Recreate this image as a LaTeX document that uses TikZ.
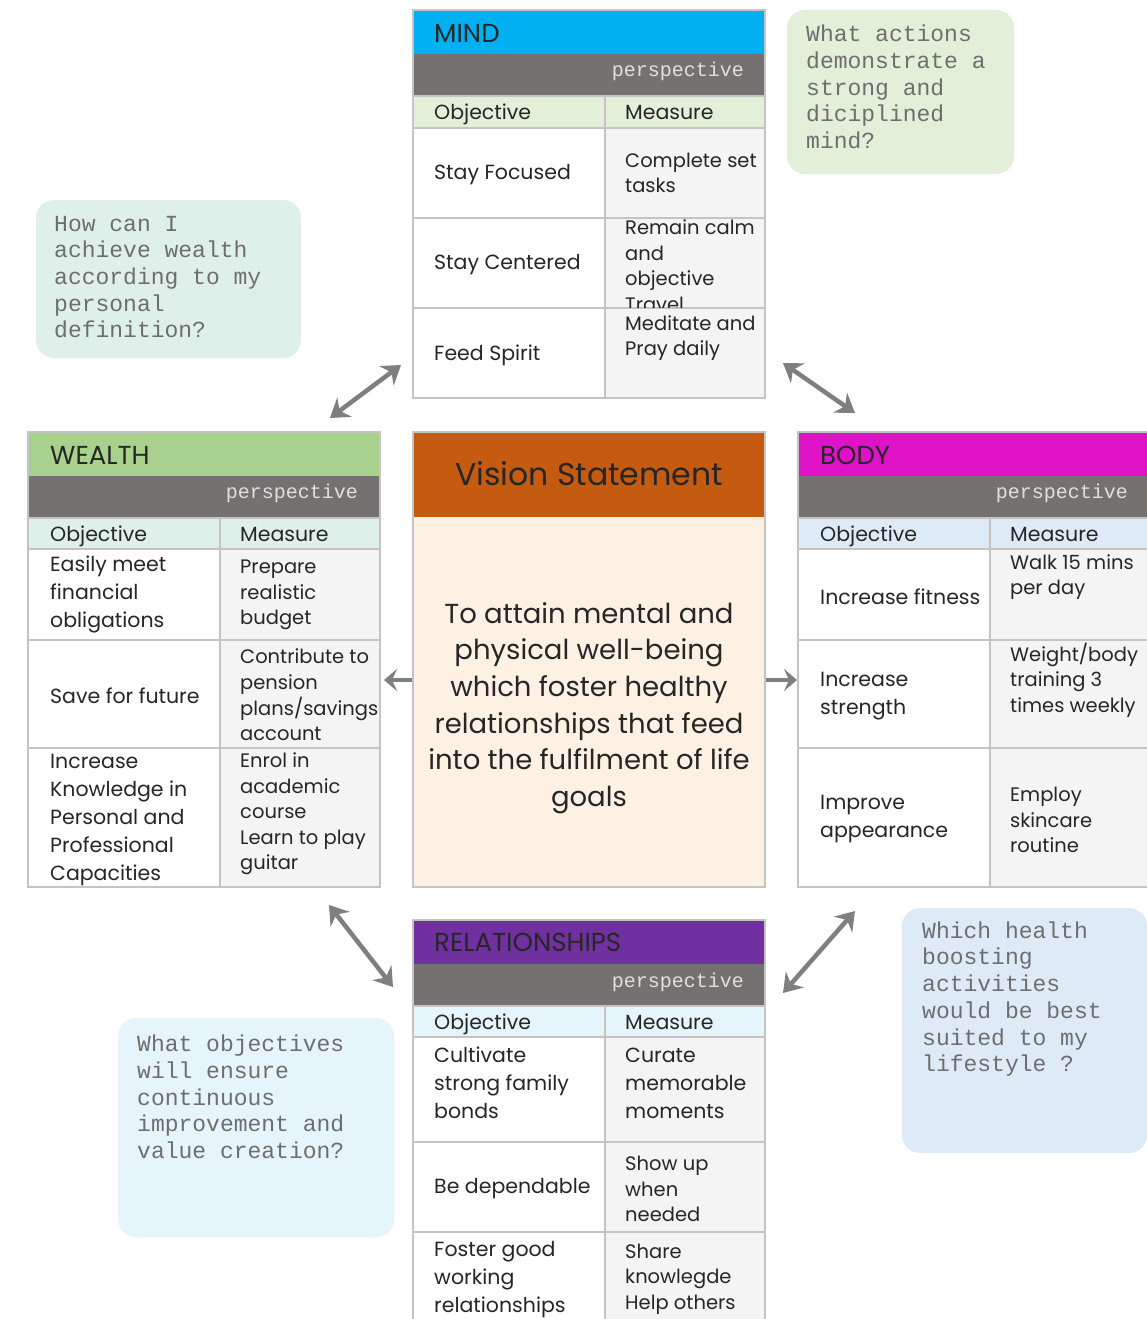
\documentclass[tikz,border=0pt]{standalone}
\usepackage{fontspec}
\setmainfont{Poppins}
\setmonofont{Liberation Mono}
\usepackage{tikz}
\usetikzlibrary{arrows.meta}

\definecolor{mindblue}{HTML}{00B0F0}
\definecolor{wealthgreen}{HTML}{A9D18E}
\definecolor{bodypink}{HTML}{DE12C6}
\definecolor{relpurple}{HTML}{7030A0}
\definecolor{visionorange}{HTML}{C55A11}
\definecolor{visionfill}{HTML}{FDF1E3}
\definecolor{bargray}{HTML}{767171}
\definecolor{measfill}{HTML}{F4F4F4}
\definecolor{gridgray}{HTML}{C4C4C4}
\definecolor{arrowgray}{HTML}{7F7F7F}
\definecolor{notetext}{HTML}{6E6E6E}
\definecolor{mindhead}{HTML}{E2F0D9}
\definecolor{wealthhead}{HTML}{DFEFEA}
\definecolor{bodyhead}{HTML}{DEEBF7}
\definecolor{relhead}{HTML}{E5F5FB}

\tikzset{
    tabtitle/.style={font=\fontsize{26}{30}\selectfont, text=black!85, anchor=west, inner sep=0pt},
    cell/.style={font=\fontsize{20.5}{28}\selectfont, text=black!85, anchor=west, align=left, inner sep=0pt},
    meas/.style={cell, font=\fontsize{19.5}{25.6}\selectfont},
    persp/.style={font=\ttfamily\fontsize{20}{22}\selectfont, text=black!12, anchor=east, inner sep=0pt},
    notetxt/.style={font=\ttfamily\fontsize{23}{26.7}\selectfont, text=notetext, anchor=west, align=left, inner sep=0pt},
    grid/.style={draw=gridgray, line width=1.5pt},
    link/.style={draw=arrowgray, line width=4.5pt,
        {Stealth[length=18pt, width=24pt, inset=6pt]}-{Stealth[length=18pt, width=24pt, inset=6pt]}},
    push/.style={draw=arrowgray, line width=4.5pt, -{Stealth[length=13pt, width=22pt, inset=5pt]}}
}

% frame of one perspective table
% #1 left, #2 top, #3 split, #4 right, #5 bottom, #6 title colour, #7 header colour, #8 row lines
\newcommand{\perspframe}[8]{%
    \fill[#6] (#1,#2) rectangle (#4,#2+44);
    \fill[bargray] (#1,#2+44) rectangle (#4,#2+86);
    \fill[#7] (#1,#2+86) rectangle (#4,#2+118);
    \fill[white] (#1,#2+118) rectangle (#3,#5);
    \fill[measfill] (#3,#2+118) rectangle (#4,#5);
    \foreach \r in {#8}
        \draw[grid] (#1,\r) -- (#4,\r);
    \draw[grid] (#1,#2+86) -- (#4,#2+86);
    \draw[grid] (#3,#2+86) -- (#3,#5);
    \draw[grid] (#1,#2) rectangle (#4,#5);
}

\begin{document}
\begin{tikzpicture}[x=1pt, y=-1pt]
    \useasboundingbox[fill=white] (0,0) rectangle (1147,1319);

    % Question notes
    \fill[mindhead, rounded corners=18pt] (787,10) rectangle (1014,174);
    \fill[wealthhead, rounded corners=18pt] (36,200) rectangle (301,358);
    \fill[relhead, rounded corners=18pt] (118,1018) rectangle (394,1237);
    \fill[bodyhead, rounded corners=18pt] (902,908) rectangle (1147,1153);
    \node[notetxt] (mindnote) at (806,87) {What actions\\demonstrate a\\strong and\\diciplined\\mind?};
    \node[notetxt] (wealthnote) at (54,277) {How can I\\achieve wealth\\according to my\\personal\\definition?};
    \node[notetxt] (relnote) at (137,1097) {What objectives\\will ensure\\continuous\\improvement and\\value creation?};
    \node[notetxt] (bodynote) at (922,999) {Which health\\boosting\\activities\\would be best\\suited to my\\lifestyle ?};

    % MIND
    \perspframe{413}{10}{605}{765}{398}{mindblue}{mindhead}{128,218,308}
    \node[tabtitle] (mind) at (434,33) {MIND};
    \node[persp] (mindp) at (744,71) {perspective};
    \node[cell] (mindo) at (434,114) {Objective};
    \node[cell] (mindm) at (625,112) {Measure};
    \node[cell] (mindo1) at (434,175) {Stay Focused};
    \node[meas] (mindm1) at (625,173) {Complete set\\tasks};
    \node[cell] (mindo2) at (434,265) {Stay Centered};
    \begin{scope}
        \clip (606,217) rectangle (764,307);
        \node[meas] (mindm2) at (625,265.5) {Remain calm\\and\\objective\\Travel};
    \end{scope}
    \node[cell] (mindo3) at (434,355) {Feed Spirit};
    \node[meas] (mindm3) at (625,338) {Meditate and\\Pray daily};

    % WEALTH
    \perspframe{28}{432}{220}{380}{887}{wealthgreen}{wealthhead}{549,640,748}
    \node[tabtitle] (wealth) at (50,455) {WEALTH};
    \node[persp] (wealthp) at (358,493) {perspective};
    \node[cell] (wealtho) at (50,536) {Objective};
    \node[cell] (wealthm) at (240,534) {Measure};
    \node[cell] (wealtho1) at (50,594) {Easily meet\\financial\\obligations};
    \node[meas] (wealthm1) at (240,595) {Prepare\\realistic\\budget};
    \node[cell] (wealtho2) at (50,696) {Save for future};
    \node[meas] (wealthm2) at (240,695) {Contribute to\\pension\\plans/savings\\account};
    \node[cell] (wealtho3) at (50,820) {Increase\\Knowledge in\\Personal and\\Professional\\Capacities};
    \node[meas] (wealthm3) at (240,814) {Enrol in\\academic\\course\\Learn to play\\guitar};

    % Vision statement
    \fill[visionorange] (413,432) rectangle (765,517);
    \fill[visionfill] (413,517) rectangle (765,887);
    \draw[grid] (413,432) rectangle (765,887);
    \node[font=\fontsize{31.5}{36}\selectfont, text=black!85, inner sep=0pt] (vision) at (589,474) {Vision Statement};
    \node[font=\fontsize{27.5}{36.6}\selectfont, text=black!85, align=center, inner sep=0pt] (visiontxt) at (589,708)
        {To attain mental and\\physical well-being\\which foster healthy\\relationships that feed\\into the fulfilment of life\\goals};

    % BODY
    \perspframe{798}{432}{990}{1149}{887}{bodypink}{bodyhead}{549,640,748}
    \node[tabtitle] (body) at (820,455) {BODY};
    \node[persp] (bodyp) at (1128,493) {perspective};
    \node[cell] (bodyo) at (820,536) {Objective};
    \node[cell] (bodym) at (1010,534) {Measure};
    \node[cell] (bodyo1) at (820,597) {Increase fitness};
    \node[meas] (bodym1) at (1010,577) {Walk 15 mins\\per day};
    \node[cell] (bodyo2) at (820,696) {Increase\\strength};
    \node[meas] (bodym2) at (1010,680) {Weight/body\\training 3\\times weekly};
    \node[cell] (bodyo3) at (820,819) {Improve\\appearance};
    \node[meas] (bodym3) at (1010,820) {Employ\\skincare\\routine};

    % RELATIONSHIPS
    \perspframe{413}{920}{605}{765}{1321}{relpurple}{relhead}{1037,1142,1232}
    \node[tabtitle] (rel) at (434,942) {RELATIONSHIPS};
    \node[persp] (relp) at (744,982) {perspective};
    \node[cell] (relo) at (434,1024) {Objective};
    \node[cell] (relm) at (625,1022) {Measure};
    \node[cell] (relo1) at (434,1083) {Cultivate\\strong family\\bonds};
    \node[cell] (relm1) at (625,1083) {Curate\\memorable\\moments};
    \node[cell] (relo2) at (434,1189) {Be dependable};
    \node[meas] (relm2) at (625,1189) {Show up\\when\\needed};
    \node[cell] (relo3) at (434,1280) {Foster good\\working\\relationships};
    \node[meas] (relm3) at (625,1279) {Share\\knowlegde\\Help others};

    % Arrow ends
    \coordinate (wm1) at (330,418);
    \coordinate (wm2) at (401,365);
    \coordinate (mb1) at (783,363);
    \coordinate (mb2) at (855,413);
    \coordinate (wr1) at (329,905);
    \coordinate (wr2) at (393,987);
    \coordinate (br1) at (855,911);
    \coordinate (br2) at (783,993);
    \coordinate (vl1) at (412,680);
    \coordinate (vl2) at (384,680);
    \coordinate (vr1) at (766,680);
    \coordinate (vr2) at (797,680);

    % Arrows
    \draw[link] (wm1) -- (wm2);
    \draw[link] (mb1) -- (mb2);
    \draw[link] (wr1) -- (wr2);
    \draw[link] (br1) -- (br2);
    \draw[push] (vl1) -- (vl2);
    \draw[push] (vr1) -- (vr2);
\end{tikzpicture}
\end{document}
